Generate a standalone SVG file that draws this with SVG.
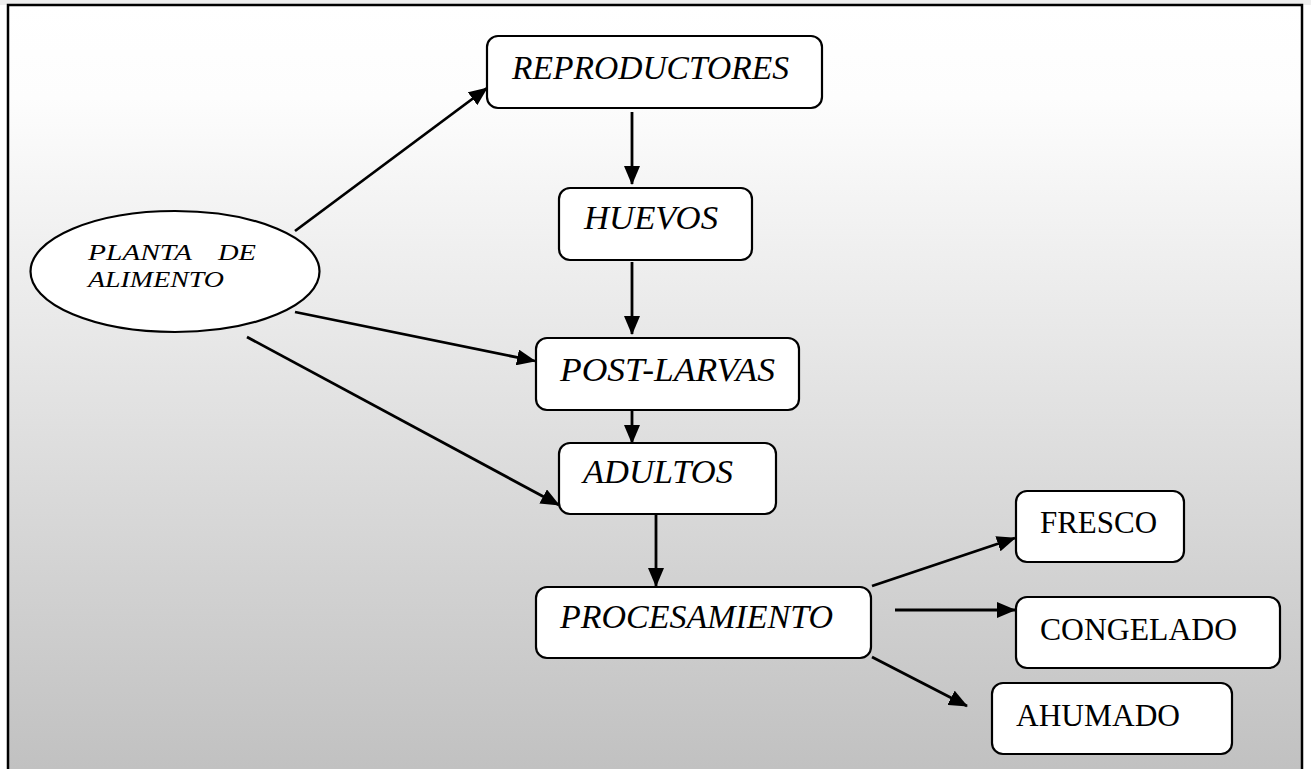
<svg xmlns="http://www.w3.org/2000/svg" width="1311" height="769" viewBox="0 0 1311 769">
  <defs>
    <linearGradient id="bg" x1="0" y1="0" x2="0" y2="1">
      <stop offset="0" stop-color="#ffffff"/>
      <stop offset="0.12" stop-color="#fdfdfd"/>
      <stop offset="1" stop-color="#c0c0c0"/>
    </linearGradient>
    <marker id="arr" markerUnits="userSpaceOnUse" markerWidth="20" markerHeight="16" refX="18" refY="8" orient="auto" viewBox="0 0 20 16">
      <path d="M0,0 L19,8 L0,16 z" fill="#000"/>
    </marker>
  </defs>
  <style>
    .node { fill: #ffffff; stroke: #000000; stroke-width: 2.2; }
    .it { font-family: "Liberation Serif", "Times New Roman", serif; font-style: italic; fill: #000; }
    .rg { font-family: "Liberation Serif", "Times New Roman", serif; fill: #000; font-size: 32px; }
    .conn line { stroke: #000; stroke-width: 2.8; marker-end: url(#arr); }
  </style>

  <rect x="0" y="0" width="1311" height="769" fill="#ffffff"/>
  <rect x="0" y="0" width="1311" height="5" fill="#eeeeee"/>
  <rect id="frame" x="8" y="5" width="1294" height="775" fill="url(#bg)" stroke="#000" stroke-width="2.5"/>

  <g id="connectors" class="conn">
    <line x1="295" y1="231" x2="487" y2="88"/>
    <line x1="295" y1="312" x2="535" y2="361"/>
    <line x1="247" y1="337" x2="559" y2="505"/>
    <line x1="632" y1="112" x2="632" y2="184"/>
    <line x1="632" y1="262" x2="632" y2="334"/>
    <line x1="632" y1="411" x2="632" y2="443"/>
    <line x1="656" y1="515" x2="656" y2="586"/>
    <line x1="872" y1="586" x2="1015" y2="538"/>
    <line x1="895" y1="610" x2="1015" y2="610"/>
    <line x1="872" y1="657" x2="967" y2="706"/>
  </g>

  <g id="planta">
    <ellipse class="node" cx="175" cy="271.5" rx="144.5" ry="60.5"/>
    <text class="it" font-size="23.5" x="88" y="260" textLength="104" lengthAdjust="spacingAndGlyphs">PLANTA</text>
    <text class="it" font-size="23.5" x="218" y="260" textLength="38" lengthAdjust="spacingAndGlyphs">DE</text>
    <text class="it" font-size="23.5" x="88" y="287" textLength="136" lengthAdjust="spacingAndGlyphs">ALIMENTO</text>
  </g>

  <g id="reproductores">
    <rect class="node" x="487" y="36" width="335" height="72" rx="11"/>
    <text class="it" font-size="33" x="512" y="79" textLength="277" lengthAdjust="spacingAndGlyphs">REPRODUCTORES</text>
  </g>

  <g id="huevos">
    <rect class="node" x="559" y="188" width="193" height="72" rx="11"/>
    <text class="it" font-size="33" x="584" y="229" textLength="134" lengthAdjust="spacingAndGlyphs">HUEVOS</text>
  </g>

  <g id="postlarvas">
    <rect class="node" x="536" y="338" width="263" height="72" rx="11"/>
    <text class="it" font-size="33" x="560" y="381" textLength="215" lengthAdjust="spacingAndGlyphs">POST-LARVAS</text>
  </g>

  <g id="adultos">
    <rect class="node" x="559" y="443" width="217" height="71" rx="11"/>
    <text class="it" font-size="33" x="583" y="483" textLength="150" lengthAdjust="spacingAndGlyphs">ADULTOS</text>
  </g>

  <g id="procesamiento">
    <rect class="node" x="536" y="587" width="335" height="71" rx="11"/>
    <text class="it" font-size="33" x="560" y="628" textLength="273" lengthAdjust="spacingAndGlyphs">PROCESAMIENTO</text>
  </g>

  <g id="fresco">
    <rect class="node" x="1016" y="491" width="168" height="71" rx="11"/>
    <text class="rg" x="1040" y="533" textLength="117" lengthAdjust="spacingAndGlyphs">FRESCO</text>
  </g>

  <g id="congelado">
    <rect class="node" x="1016" y="597" width="264" height="71" rx="11"/>
    <text class="rg" x="1040" y="640" textLength="197" lengthAdjust="spacingAndGlyphs">CONGELADO</text>
  </g>

  <g id="ahumado">
    <rect class="node" x="992" y="683" width="240" height="71" rx="11"/>
    <text class="rg" x="1016" y="726" textLength="164" lengthAdjust="spacingAndGlyphs">AHUMADO</text>
  </g>
</svg>
